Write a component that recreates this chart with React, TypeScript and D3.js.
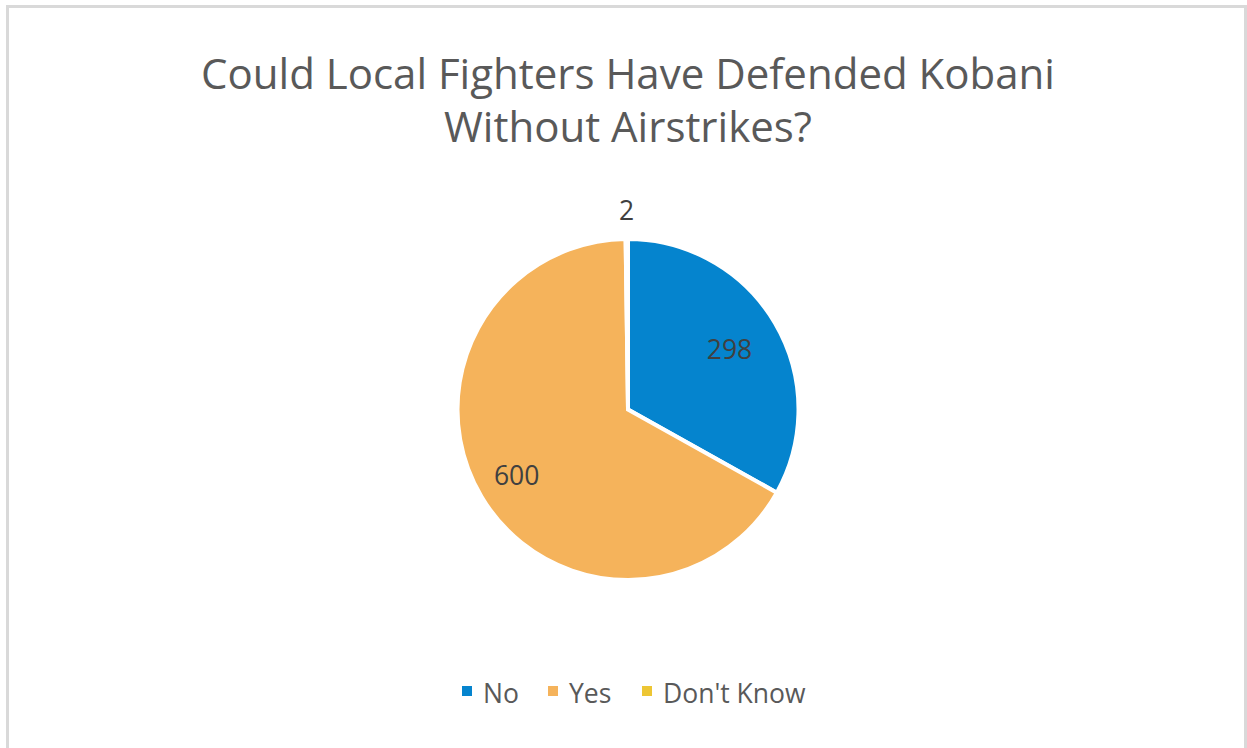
import React from "react";
import * as d3 from "d3";

const categories = ["No", "Yes", "Don't Know"];
const values = [298, 600, 2];
const colors = ["#0584CE", "#F5B35B", "#EDC634"];
const titleLines = ["Could Local Fighters Have Defended Kobani", "Without Airstrikes?"];

const W = 1247;
const H = 748;
const FONT = "'Open Sans', 'Noto Sans', sans-serif";
const labelRadiusFactor = [0.69, 0.76];

export default function App() {
  const cx = 628;
  const cy = 409.5;
  const r = 170.5;
  const pie = d3.pie<number>().sort(null).value((d) => d)(values);
  const arc = d3.arc<d3.PieArcDatum<number>>().innerRadius(0).outerRadius(r);
  const legendX = [462, 548, 642];
  return (
    <svg width={W} height={H} style={{ position: "absolute", left: 0, top: 0, display: "block" }}>
      <rect x={0} y={0} width={W} height={H} fill="#ffffff" />
      <rect x={7.5} y={6.5} width={W - 9} height={H + 10} fill="none" stroke="#d9d9d9" strokeWidth={3} />
      {titleLines.map((t, i) => (
        <text key={i} x={628} y={89 + i * 53} textAnchor="middle" fontFamily={FONT} fontSize={42} fill="#595959">
          {t}
        </text>
      ))}
      <g transform={`translate(${cx},${cy})`}>
        {pie.map((p, i) => (
          <path key={i} d={arc(p) || ""} fill={colors[i]} stroke="#ffffff" strokeWidth={4} strokeLinejoin="miter" />
        ))}
        {pie.map((p, i) => {
          const mid = (p.startAngle + p.endAngle) / 2;
          const small = p.endAngle - p.startAngle < 0.1;
          const rr = small ? r + 28 : r * (labelRadiusFactor[i] ?? 0.72);
          const x = Math.sin(mid) * rr;
          const y = -Math.cos(mid) * rr;
          return (
            <text key={i} x={x} y={y} dy="0.35em" textAnchor="middle" fontFamily={FONT} fontSize={26.5} fill="#404040">
              {values[i]}
            </text>
          );
        })}
      </g>
      {categories.map((c, i) => (
        <g key={c}>
          <rect x={legendX[i]} y={686} width={10} height={10} fill={colors[i]} />
          <text x={legendX[i] + 21} y={703} fontFamily={FONT} fontSize={26.5} fill="#595959">
            {c}
          </text>
        </g>
      ))}
    </svg>
  );
}
